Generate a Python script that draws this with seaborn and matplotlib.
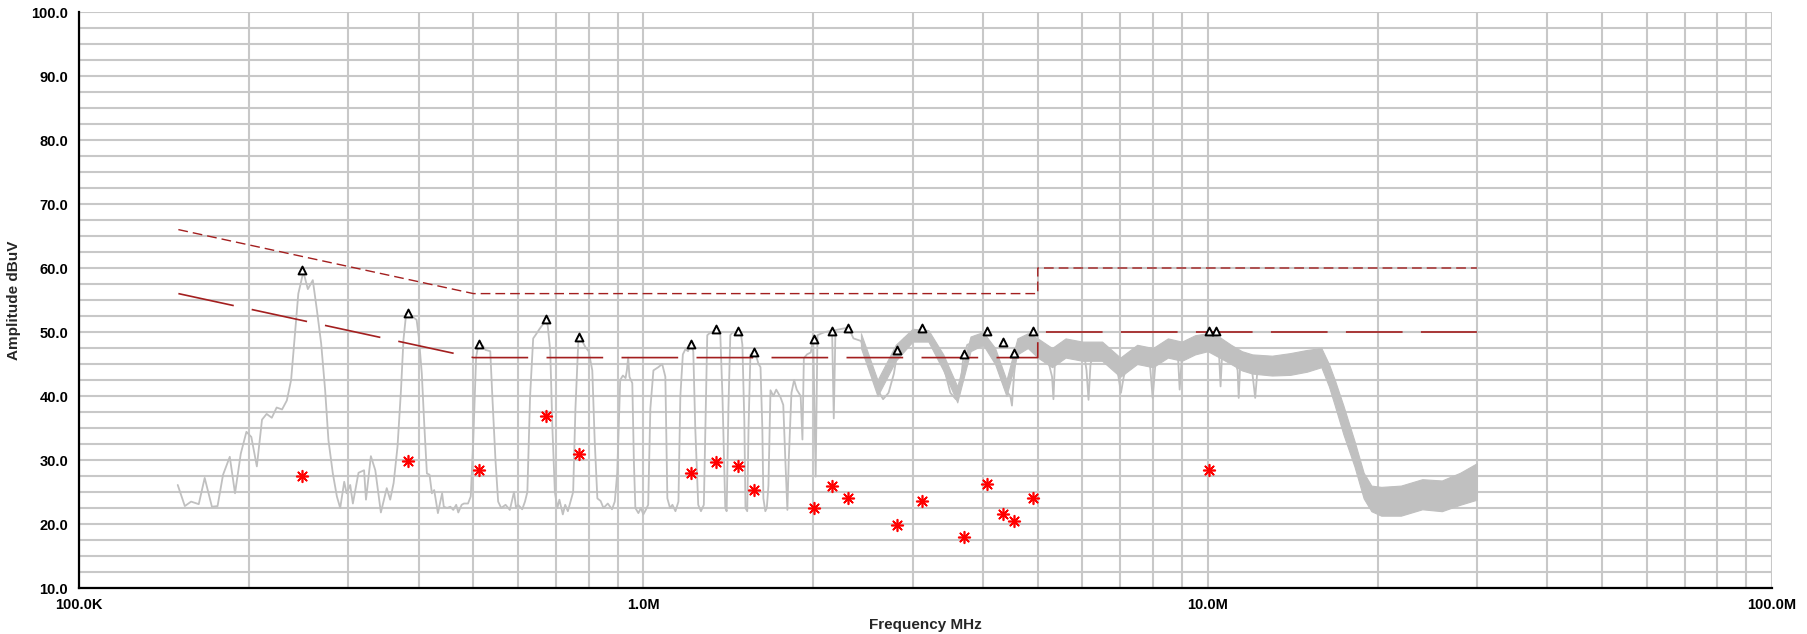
import numpy as np
import pandas as pd
import matplotlib
matplotlib.use("Agg")
import matplotlib.pyplot as plt
import seaborn as sns
from matplotlib.ticker import FixedLocator, FuncFormatter, NullFormatter

# ---------------- data ----------------
# scan trace (MHz, dBuV), 150 kHz .. 30 MHz (centre of the trace, incl. narrow dips)
trace_f = [0.1496, 0.154, 0.158, 0.163, 0.167, 0.172, 0.176, 0.180, 0.185, 0.189,
           0.1935, 0.198, 0.202, 0.2066, 0.211, 0.215, 0.2196, 0.224, 0.229, 0.2335,
           0.2376, 0.2415, 0.2447, 0.2498, 0.2544, 0.2596, 0.264, 0.2686, 0.273, 0.2767,
           0.2817, 0.2864, 0.2903, 0.2951, 0.298, 0.3024, 0.3057, 0.3128, 0.320, 0.3225,
           0.329, 0.335, 0.3427, 0.351, 0.356, 0.361, 0.3668, 0.372, 0.3758, 0.380,
           0.385, 0.391, 0.3965, 0.400, 0.405, 0.409, 0.4135, 0.418, 0.422, 0.426,
           0.4325, 0.440, 0.443, 0.449, 0.455, 0.4605, 0.466, 0.470, 0.4765, 0.481,
           0.489, 0.4945, 0.4996, 0.5055, 0.5105, 0.515, 0.520, 0.525, 0.5355, 0.540,
           0.547, 0.553, 0.560, 0.570, 0.580, 0.590, 0.595, 0.600, 0.610, 0.617,
           0.623, 0.630, 0.638, 0.645, 0.655, 0.665, 0.671, 0.677, 0.684, 0.690,
           0.697, 0.704, 0.710, 0.720, 0.727, 0.735, 0.742, 0.751, 0.758, 0.767,
           0.770, 0.780, 0.790, 0.800, 0.812, 0.820, 0.829, 0.840, 0.850, 0.865,
           0.880, 0.890, 0.899, 0.910, 0.920, 0.930, 0.935, 0.940, 0.945, 0.956,
           0.962, 0.968, 0.980, 0.990, 1.000, 1.010, 1.020, 1.029, 1.042, 1.063,
           1.080, 1.094, 1.103, 1.115, 1.126, 1.140, 1.154, 1.163, 1.175, 1.187,
           1.200, 1.215, 1.226, 1.236, 1.251, 1.265, 1.280, 1.288, 1.298, 1.310,
           1.325, 1.347, 1.369, 1.381, 1.397, 1.405, 1.415, 1.426, 1.440, 1.456,
           1.472, 1.490, 1.498, 1.510, 1.517, 1.528, 1.536, 1.548, 1.561, 1.572,
           1.590, 1.600, 1.613, 1.625, 1.632, 1.645, 1.655, 1.666, 1.680, 1.700,
           1.720, 1.750, 1.770, 1.785, 1.800, 1.810, 1.830, 1.850, 1.870, 1.900,
           1.914, 1.925, 1.950, 1.980, 2.000, 2.020, 2.035, 2.070, 2.100, 2.160,
           2.175, 2.190, 2.250, 2.310, 2.357, 2.430,
           2.50, 2.55, 2.60, 2.66, 2.72, 2.78, 2.82, 2.90, 3.00, 3.12,
           3.20, 3.27, 3.36, 3.43, 3.50, 3.58, 3.65, 3.69, 3.75, 3.88,
           4.04, 4.12, 4.20, 4.30, 4.38, 4.47, 4.50, 4.54, 4.60, 4.76,
           4.90, 4.97, 5.00, 5.06, 5.20, 5.30, 5.33, 5.36, 5.45, 5.60,
           5.80, 6.03, 6.10, 6.15, 6.20, 6.30, 6.50, 6.81, 6.95, 7.02,
           7.10, 7.22, 7.40, 7.70, 7.90, 7.99, 8.08, 8.20, 8.50, 8.85,
           8.92, 9.00, 9.20, 9.60, 9.90, 10.2, 10.45, 10.54, 10.62, 10.8,
           11.1, 11.30, 11.35, 11.42, 11.7, 11.95, 12.06, 12.14, 12.25, 12.6,
           13.2, 14.0, 14.9, 15.4, 15.9, 16.1, 16.4, 16.73, 17.42, 18.15,
           18.91, 19.45, 20.26, 21.99, 23.86, 25.89, 28.1, 30.0]
trace_v = [26.1, 22.8, 23.5, 23.1, 27.2, 22.7, 22.8, 27.7, 30.5, 24.8,
           31.0, 34.4, 33.6, 29.0, 36.3, 37.2, 36.6, 38.2, 37.9, 39.3,
           42.5, 50.0, 56.0, 59.4, 56.7, 58.1, 53.4, 48.2, 40.9, 33.1,
           27.9, 24.3, 22.5, 26.6, 24.8, 26.1, 23.2, 28.0, 28.4, 23.8,
           30.6, 28.4, 21.8, 25.6, 23.8, 26.4, 32.1, 40.9, 48.8, 52.9,
           52.7, 52.3, 51.9, 49.3, 43.5, 35.7, 27.9, 27.7, 24.8, 25.3,
           21.7, 24.8, 22.7, 22.5, 22.7, 22.2, 23.0, 21.8, 23.0, 23.2,
           23.2, 24.3, 33.1, 46.1, 48.2, 47.5, 47.8, 47.2, 47.0, 40.0,
           30.0, 23.5, 22.5, 23.0, 22.2, 25.0, 22.5, 23.0, 22.3, 23.5,
           25.0, 40.0, 49.0, 49.6, 50.5, 51.3, 52.0, 51.0, 47.0, 35.0,
           25.0, 22.5, 23.8, 21.5, 23.0, 22.0, 23.3, 25.0, 38.0, 48.5,
           49.2, 48.5, 47.6, 47.0, 44.0, 33.0, 24.0, 23.6, 22.5, 23.2,
           22.3, 23.5, 28.0, 42.5, 43.2, 42.8, 44.0, 46.0, 43.0, 42.0,
           30.0, 22.5, 21.7, 22.5, 21.5, 22.2, 23.0, 38.0, 44.0, 44.5,
           45.0, 43.0, 24.0, 22.5, 23.0, 22.0, 23.5, 40.0, 46.5, 47.3,
           47.0, 48.2, 47.0, 35.0, 23.0, 22.0, 23.0, 35.0, 49.5, 49.8,
           50.0, 50.5, 49.6, 40.0, 22.5, 22.0, 38.0, 49.5, 50.0, 49.8,
           50.2, 49.5, 48.0, 36.0, 22.5, 22.0, 35.0, 46.5, 46.0, 46.9,
           45.8, 45.0, 44.5, 35.0, 24.0, 22.0, 22.5, 26.0, 40.9, 40.0,
           41.0, 39.8, 38.6, 30.0, 22.2, 30.0, 40.5, 42.5, 41.0, 40.0,
           33.2, 45.9, 46.5, 46.8, 48.9, 27.4, 49.5, 49.8, 50.0, 50.2,
           36.5, 50.3, 50.5, 50.7, 49.0, 48.6,
           45.5, 43.0, 41.0, 39.5, 40.5, 43.5, 47.0, 49.0, 49.5, 50.2,
           49.5, 47.5, 46.0, 43.5, 40.5, 39.5, 42.0, 46.0, 48.0, 48.5,
           49.5, 48.0, 46.0, 43.0, 41.0, 40.0, 38.5, 43.5, 48.0, 48.5,
           49.2, 48.5, 47.0, 47.5, 46.0, 43.0, 39.5, 45.0, 47.5, 48.0,
           47.5, 47.0, 44.0, 39.4, 45.0, 47.0, 47.0, 46.5, 43.0, 40.5,
           43.0, 45.5, 46.5, 46.5, 45.0, 39.7, 45.0, 47.0, 47.5, 47.0,
           41.0, 46.0, 48.5, 48.5, 49.0, 49.2, 48.5, 41.5, 47.5, 47.0,
           46.5, 44.0, 39.7, 45.0, 45.5, 45.0, 42.0, 39.7, 44.0, 44.5,
           44.8, 45.0, 45.5, 46.5, 46.0, 45.0, 43.0, 40.5, 36.0, 31.0,
           26.0, 24.0, 23.3, 23.5, 24.5, 24.2, 25.5, 26.7]

# dense part of the scan, 2.43 .. 30 MHz: lower / upper edge of the noise band
band_f = [2.43, 2.6, 2.8, 3.0, 3.2, 3.4, 3.6, 3.8, 4.0, 4.2,
          4.4, 4.6, 4.8, 5.0, 5.3, 5.6, 6.0, 6.5, 7.0, 7.5,
          8.0, 8.5, 9.0, 9.5, 10.0, 10.5, 11.0, 11.5, 12.0, 13.0,
          14.0, 15.0, 15.9, 16.4, 16.8, 17.4, 18.2, 18.9, 19.5, 20.3,
          22.0, 24.0, 26.0, 28.0, 30.0]
band_lo = [47.5, 40.0, 45.5, 48.5, 48.5, 44.0, 39.0, 47.0, 48.0, 45.0,
           40.0, 46.5, 47.5, 46.0, 44.5, 46.0, 45.5, 45.5, 43.0, 45.0,
           44.5, 46.0, 45.5, 46.5, 47.0, 46.0, 45.0, 44.0, 43.5, 43.2,
           43.3, 43.8, 44.5, 41.5, 38.5, 34.0, 29.0, 24.0, 22.0, 21.3,
           21.3, 22.3, 22.0, 23.0, 23.8]
band_hi = [49.8, 42.5, 48.0, 50.5, 50.3, 46.5, 41.5, 49.3, 50.0, 47.5,
           42.5, 49.0, 49.8, 49.0, 47.5, 49.0, 48.5, 48.5, 46.0, 48.0,
           47.5, 49.0, 48.5, 49.5, 49.8, 49.2, 48.0, 47.0, 46.5, 46.3,
           46.7, 47.2, 47.5, 45.0, 42.5, 38.5, 33.0, 28.0, 26.0, 25.8,
           26.0, 27.0, 26.8, 28.0, 29.5]

# limit lines
qp_lim_f = [0.15, 0.5, 5.0, 5.0, 30.0]
qp_lim_v = [66.0, 56.0, 56.0, 60.0, 60.0]
av_lim_f = [0.15, 0.5, 5.0, 5.0, 30.0]
av_lim_v = [56.0, 46.0, 46.0, 50.0, 50.0]

# peak markers (triangles)
pk_f = [0.2486, 0.3826, 0.5105, 0.671, 0.770, 1.215, 1.347, 1.472, 1.572, 2.004,
        2.16, 2.307, 2.813, 3.12, 3.693, 4.07, 4.343, 4.54, 4.895, 10.05, 10.36]
pk_v = [59.7, 53.0, 48.1, 52.0, 49.2, 48.2, 50.5, 50.2, 46.9, 48.9,
        50.2, 50.7, 47.2, 50.7, 46.5, 50.2, 48.4, 46.7, 50.2, 50.2, 50.2]

# average measurement markers (red asterisks)
av_f = [0.2486, 0.3826, 0.5105, 0.671, 0.770, 1.215, 1.347, 1.472, 1.572, 2.004,
        2.16, 2.307, 2.813, 3.12, 3.693, 4.07, 4.343, 4.54, 4.895, 10.05]
av_v = [27.5, 29.8, 28.5, 36.9, 31.0, 28.0, 29.7, 29.1, 25.3, 22.5,
        26.0, 24.0, 19.8, 23.6, 17.9, 26.3, 21.5, 20.5, 24.0, 28.5]

x_major = [0.1, 1.0, 10.0, 100.0]
x_major_labels = ["100.0K", "1.0M", "10.0M", "100.0M"]
y_major = [10, 20, 30, 40, 50, 60, 70, 80, 90, 100]

# ---------------- drawing ----------------
sns.set_style("white")
plt.rcParams["font.family"] = ["Liberation Sans", "DejaVu Sans"]
plt.rcParams["font.weight"] = "bold"

W, H = 1808, 634
fig = plt.figure(figsize=(W / 100, H / 100), dpi=100)
L, R, T, B = 79, 1772, 12, 588
ax = fig.add_axes([L / W, (H - B) / H, (R - L) / W, (B - T) / H])

TRACE = "#C0C0C0"
LIM = "#A31F1F"

ax.fill_between(band_f, band_lo, band_hi, color=TRACE, lw=0.8, edgecolor=TRACE, zorder=2)
sns.lineplot(x=trace_f, y=trace_v, ax=ax, color=TRACE, lw=1.3,
             sort=False, estimator=None, zorder=2)

sns.lineplot(x=qp_lim_f, y=qp_lim_v, ax=ax, color=LIM, lw=1.0,
             sort=False, estimator=None, zorder=3)
ax.lines[-1].set_dashes([7, 3.6])
sns.lineplot(x=av_lim_f, y=av_lim_v, ax=ax, color=LIM, lw=1.2,
             sort=False, estimator=None, zorder=3)
ax.lines[-1].set_dashes([34, 11])

sns.scatterplot(x=av_f, y=av_v, ax=ax, marker=(8, 2, 0), s=70,
                color="#FF0000", linewidth=1.2, zorder=4)
sns.scatterplot(x=pk_f, y=pk_v, ax=ax, marker="^", s=32,
                facecolor="white", edgecolor="black", linewidth=1.4, zorder=5)

ax.set_xscale("log")
ax.set_xlim(0.1, 100)
ax.set_ylim(10, 100)

minor_x = [k * 10.0 ** d for d in (-1, 0, 1) for k in range(2, 10)]
ax.xaxis.set_major_locator(FixedLocator(x_major))
ax.xaxis.set_minor_locator(FixedLocator(minor_x))
ax.xaxis.set_major_formatter(FuncFormatter(lambda v, p: x_major_labels[x_major.index(v)] if v in x_major else ""))
ax.xaxis.set_minor_formatter(NullFormatter())
ax.yaxis.set_major_locator(FixedLocator(y_major))
ax.yaxis.set_minor_locator(FixedLocator(list(np.arange(10, 100.1, 2.5))))
ax.yaxis.set_major_formatter(FuncFormatter(lambda v, p: f"{v:.1f}"))

ax.grid(which="both", color="#C8C8C8", lw=1.5, zorder=0)
ax.set_axisbelow(True)

for s in ("top", "right"):
    ax.spines[s].set_visible(False)
for s in ("left", "bottom"):
    ax.spines[s].set_color("black")
    ax.spines[s].set_linewidth(1.6)
    ax.spines[s].set_zorder(6)

ax.tick_params(axis="y", which="major", direction="inout", length=13.5, width=1.5,
               pad=1, labelsize=10.5, colors="black")
ax.tick_params(axis="y", which="minor", direction="inout", length=7, width=1.5)
ax.tick_params(axis="x", which="major", direction="inout", length=11, width=1.5,
               pad=2, labelsize=10.5, colors="black")
ax.tick_params(axis="x", which="minor", direction="inout", length=6, width=1.5)
for lab in ax.get_xticklabels() + ax.get_yticklabels():
    lab.set_fontweight("bold")

ax.set_xlabel("Frequency MHz", fontsize=11, fontweight="bold")
ax.set_ylabel("Amplitude dBuV", fontsize=11, fontweight="bold")
ax.xaxis.set_label_coords(0.5, -0.052)
ax.yaxis.set_label_coords(-0.034, 0.5)

fig.savefig("out.png", dpi=100)
